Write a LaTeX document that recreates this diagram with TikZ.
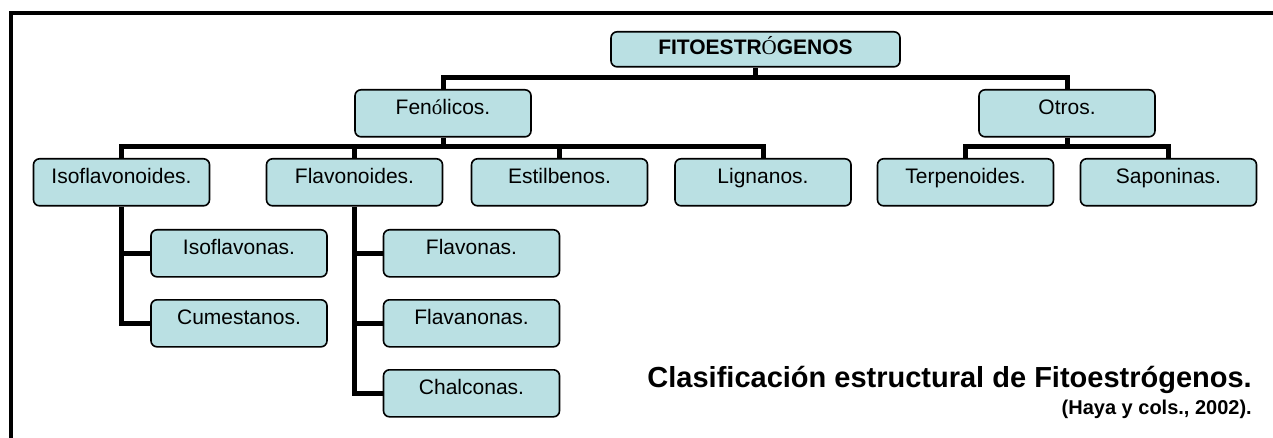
\documentclass[tikz,border=0pt]{standalone}
\usepackage{fontspec}
\setmainfont{Liberation Sans}
\newfontfamily\accentfont{Liberation Serif}
\usetikzlibrary{backgrounds}
\definecolor{boxfill}{RGB}{186,224,227}
\tikzset{
  box/.style={draw=black, line width=1.6pt, fill=boxfill, rounded corners=6pt,
    minimum width=176pt, inner xsep=0pt, inner ysep=0pt,
    text height=24.3pt, text depth=22.7pt, anchor=north,
    font=\fontsize{21}{22}\selectfont},
  topbox/.style={box, minimum width=289pt, text height=23pt, text depth=12pt,
    font=\fontsize{21}{22}\selectfont\bfseries},
  conn/.style={line width=5pt, line join=miter},
  frame/.style={line width=4pt, line join=miter},
  caption/.style={anchor=base east, inner sep=0pt}
}
\begin{document}
\begin{tikzpicture}[x=1pt, y=-1pt]
\useasboundingbox (0,0) rectangle (1273,438);
\draw[frame] (11,438) -- (11,13) -- (1273,13);

\node[topbox] (fito) at (755.5,31) {FITOESTR{\accentfont\mdseries Ó}GENOS};
\node[box] (fen) at (443,89) {Fen{\accentfont ó}licos.};
\node[box] (otr) at (1067,89) {Otros.};
\node[box] (isf) at (121.5,158) {Isoflavonoides.};
\node[box] (flv) at (354.5,158) {Flavonoides.};
\node[box] (est) at (559.5,158) {Estilbenos.};
\node[box] (lig) at (763,158) {Lignanos.};
\node[box] (ter) at (965.5,158) {Terpenoides.};
\node[box] (sap) at (1168.5,158) {Saponinas.};
\node[box] (isn) at (239,229) {Isoflavonas.};
\node[box] (cum) at (239,299) {Cumestanos.};
\node[box] (fla) at (471.5,229) {Flavonas.};
\node[box] (fln) at (471.5,299) {Flavanonas.};
\node[box] (cha) at (471.5,369) {Chalconas.};

\begin{scope}[on background layer]
\draw[conn] (fito.south) -- ++(0,12);
\draw[conn] (fen.north) -- ++(0,-11) -| (otr.north);
\draw[conn] (fen.south) -- ++(0,11);
\draw[conn] (isf.north) -- ++(0,-11) -| (lig.north);
\draw[conn] (flv.north) -- ++(0,-11);
\draw[conn] (est.north) -- ++(0,-11);
\draw[conn] (otr.south) -- ++(0,11);
\draw[conn] (ter.north) -- ++(0,-11) -| (sap.north);
\draw[conn] (isf.south) |- (cum.west);
\draw[conn] (isf.south |- isn.west) -- (isn.west);
\draw[conn] (flv.south) |- (cha.west);
\draw[conn] (flv.south |- fla.west) -- (fla.west);
\draw[conn] (flv.south |- fln.west) -- (fln.west);
\end{scope}

\node[caption, font=\fontsize{29}{30}\selectfont\bfseries] (cap) at (1252,387) {Clasificación estructural de Fitoestrógenos.};
\node[caption, font=\fontsize{20}{21}\selectfont\bfseries] (ref) at (1252,414) {(Haya y cols., 2002).};
\end{tikzpicture}
\end{document}
